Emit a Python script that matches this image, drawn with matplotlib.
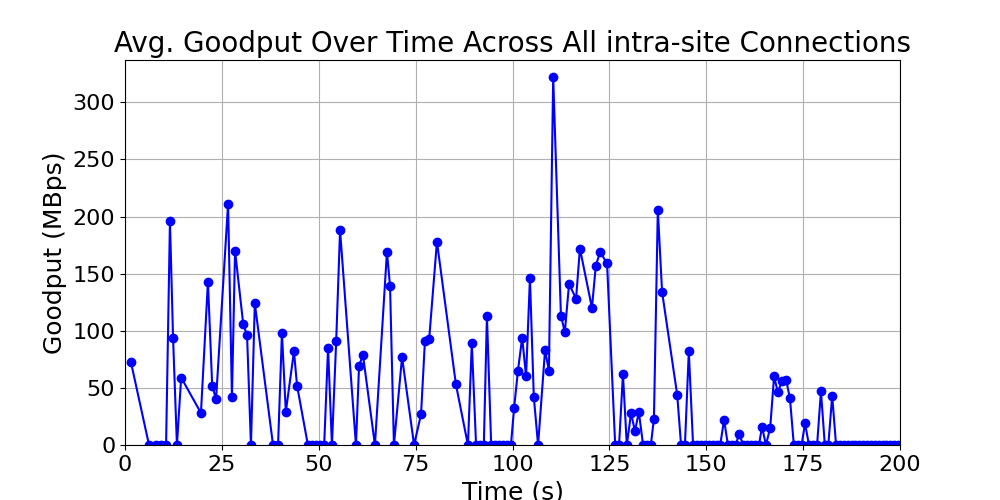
import matplotlib
matplotlib.use("Agg")
import matplotlib.pyplot as plt

# Time (s) and average goodput (MBps)
times = [
    1.5, 6.2, 8.0, 9.3, 10.6, 11.6, 12.4, 13.4, 14.5, 19.6,
    21.4, 22.5, 23.5, 26.6, 27.6, 28.4, 30.5, 31.5, 32.5, 33.5,
    38.2, 39.5, 40.5, 41.5, 43.6, 44.4, 47.2, 48.3, 49.3, 50.3,
    51.4, 52.4, 53.4, 54.5, 55.5, 59.6, 60.4, 61.4, 64.5, 67.6,
    68.4, 69.4, 71.5, 74.6, 76.4, 77.4, 78.5, 80.5, 85.4, 88.5,
    89.5, 90.6, 91.6, 92.6, 93.4, 94.5, 95.5, 96.5, 97.5, 98.6,
    99.6, 100.4, 101.4, 102.5, 103.5, 104.5, 105.5, 106.6, 108.4, 109.4,
    110.5, 112.5, 113.5, 114.6, 116.4, 117.4, 120.5, 121.5, 122.6, 124.4,
    126.5, 127.5, 128.5, 129.5, 130.6, 131.6, 132.6, 133.7, 134.7, 135.7,
    136.5, 137.5, 138.6, 142.5, 143.5, 144.5, 145.5, 146.6, 147.6, 148.6,
    149.6, 150.6, 151.7, 152.7, 153.6, 154.6, 155.6, 156.6, 157.6, 158.5,
    159.5, 160.5, 161.5, 162.6, 163.6, 164.4, 165.4, 166.5, 167.5, 168.5,
    169.5, 170.6, 171.6, 172.6, 173.6, 174.6, 175.5, 176.5, 177.5, 178.6,
    179.6, 180.6, 181.5, 182.5, 183.5, 184.5, 185.5, 186.5, 187.5, 188.5,
    189.5, 190.5, 191.5, 192.5, 193.5, 194.5, 195.5, 196.5, 197.5, 198.5,
    199.5,
]
goodput = [
    73, 0, 0, 0, 0, 196, 94, 0, 59, 28,
    143, 52, 40, 211, 42, 170, 106, 96, 0, 124,
    0, 0, 98, 29, 82, 52, 0, 0, 0, 0,
    0, 85, 0, 91, 188, 0, 69, 79, 0, 169,
    139, 0, 77, 0, 27, 91, 93, 178, 53, 0,
    89, 0, 0, 0, 113, 0, 0, 0, 0, 0,
    0, 32, 65, 94, 60, 146, 42, 0, 83, 65,
    322, 113, 99, 141, 128, 172, 120, 157, 169, 159,
    0, 0, 62, 0, 28, 12, 29, 0, 0, 0,
    23, 206, 134, 44, 0, 0, 82, 0, 0, 0,
    0, 0, 0, 0, 0, 22, 0, 0, 0, 10,
    0, 0, 0, 0, 0, 16, 0, 15, 60, 46,
    56, 57, 41, 0, 0, 0, 19, 0, 0, 0,
    47, 0, 0, 43, 0, 0, 0, 0, 0, 0,
    0, 0, 0, 0, 0, 0, 0, 0, 0, 0,
    0,
]

fig, ax = plt.subplots(figsize=(10, 5), dpi=100)
ax.plot(times, goodput, color="blue", marker="o", linewidth=1.5, markersize=6)

ax.set_title("Avg. Goodput Over Time Across All intra-site Connections", fontsize=20)
ax.set_xlabel("Time (s)", fontsize=18)
ax.set_ylabel("Goodput (MBps)", fontsize=18)
ax.tick_params(labelsize=16)
ax.set_xlim(0, 200)
ax.set_ylim(0, 337)
ax.grid(True)

plt.savefig("out.png")
